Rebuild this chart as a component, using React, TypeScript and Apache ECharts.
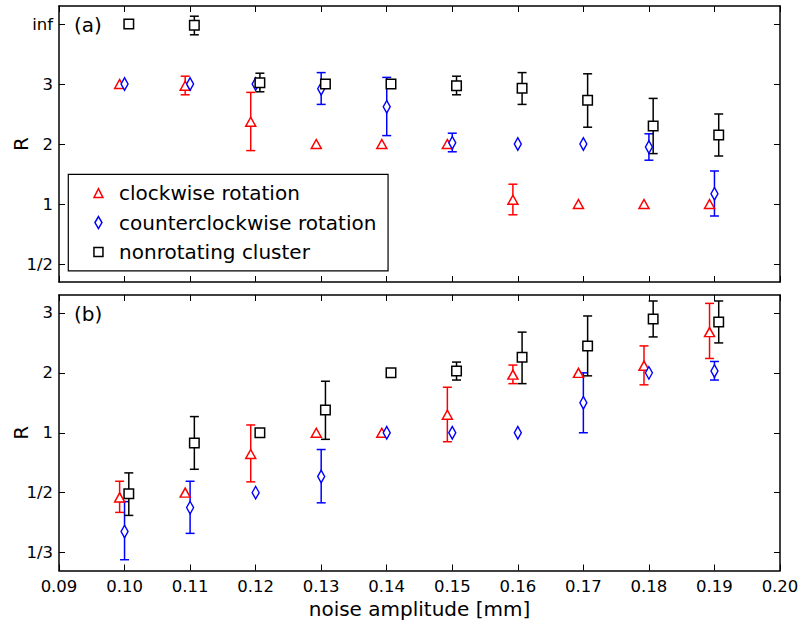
import React, { useEffect, useRef } from "react";
import * as echarts from "echarts";

// x categories (noise amplitude, mm)
const noise = [0.1, 0.11, 0.12, 0.13, 0.14, 0.15, 0.16, 0.17, 0.18, 0.19];
const xTicks = [0.09, 0.1, 0.11, 0.12, 0.13, 0.14, 0.15, 0.16, 0.17, 0.18, 0.19, 0.2];

// R scale positions: 1/3 -> -1, 1/2 -> 0, 1 -> 1, 2 -> 2, 3 -> 3, inf -> 4
const yTicksA = [0, 1, 2, 3, 4];
const yLabelsA = ["1/2", "1", "2", "3", "inf"];
const yTicksB = [-1, 0, 1, 2, 3];
const yLabelsB = ["1/3", "1/2", "1", "2", "3"];

const seriesNames = ["clockwise rotation", "counterclockwise rotation", "nonrotating cluster"];

// panel (a)
const cwA = [3.0, 2.97, 2.37, 2.0, 2.0, 2.0, 1.07, 1.0, 1.0, 1.0];
const cwAErr = [null, [2.82, 3.13], [1.89, 2.86], null, null, null, [0.82, 1.33], null, null, null];
const ccwA = [3.0, 3.0, 3.0, 2.92, 2.62, 2.02, 2.0, 2.0, 1.95, 1.17];
const ccwAErr = [null, null, null, [2.66, 3.19], [2.14, 3.11], [1.87, 2.18], null, null, [1.73, 2.17], [0.8, 1.55]];
const nrA = [4.0, 3.98, 3.02, 3.0, 3.0, 2.97, 2.93, 2.73, 2.3, 2.15];
const nrAErr = [null, [3.82, 4.13], [2.87, 3.18], null, null, [2.82, 3.13], [2.66, 3.19], [2.28, 3.17], [1.84, 2.76], [1.8, 2.5]];

// panel (b)
const cwB = [-0.08, 0.0, 0.645, 1.0, 1.0, 1.3, 1.97, 2.0, 2.12, 2.68];
const cwBErr = [[-0.33, 0.19], null, [0.18, 1.13], null, null, [0.85, 1.76], [1.82, 2.13], null, [1.8, 2.45], [2.24, 3.16]];
const ccwB = [-0.65, -0.25, 0.0, 0.27, 1.0, 1.0, 1.0, 1.5, 2.0, 2.03];
const ccwBErr = [[-1.12, -0.15], [-0.68, 0.19], null, [-0.17, 0.72], null, null, null, [1.0, 2.0], null, [1.88, 2.19]];
const nrB = [-0.02, 0.83, 1.0, 1.38, 2.0, 2.03, 2.26, 2.45, 2.9, 2.85];
const nrBErr = [[-0.38, 0.33], [0.39, 1.27], null, [0.89, 1.86], null, [1.88, 2.18], [1.82, 2.68], [1.95, 2.95], [2.6, 3.2], [2.5, 3.2]];

// small horizontal shifts between the three groups
const offsets = [-0.00075, 0, 0.00065];
const colors = ["#ff0000", "#0000ff", "#000000"];
const symbols = ["triangle", "diamond", "rect"];
const symbolSizes: any[] = [[10, 9], [7, 12.5], [9.5, 9.5]];
const legendIcons = [
  "path://M0,0M10,13M0.5,11L5,2L9.5,11Z",
  "path://M0,0M10,13M5,0.5L8.5,6.5L5,12.5L1.5,6.5Z",
  "path://M0,0M10,13M0.5,2L9.5,2L9.5,11L0.5,11Z",
];

const FONT = "DejaVu Sans";

function errSeries(name: string, k: number, err: any[], axis: number) {
  const data = noise
    .map((x, i) => (err[i] ? [x + offsets[k], err[i][0], err[i][1]] : null))
    .filter(Boolean);
  return {
    type: "custom",
    name: name + " err",
    xAxisIndex: axis * 2,
    yAxisIndex: axis * 2,
    encode: { x: 0, y: [1, 2] },
    data,
    silent: true,
    renderItem: (params: any, api: any) => {
      const x = api.value(0);
      const lo = api.coord([x, api.value(1)]);
      const hi = api.coord([x, api.value(2)]);
      const cw = 4.5;
      const st = { stroke: colors[k], lineWidth: 1.5 };
      return {
        type: "group",
        children: [
          { type: "line", shape: { x1: hi[0], y1: hi[1], x2: lo[0], y2: lo[1] }, style: st },
          { type: "line", shape: { x1: hi[0] - cw, y1: hi[1], x2: hi[0] + cw, y2: hi[1] }, style: st },
          { type: "line", shape: { x1: lo[0] - cw, y1: lo[1], x2: lo[0] + cw, y2: lo[1] }, style: st },
        ],
      };
    },
  };
}

function pointSeries(k: number, vals: number[], axis: number) {
  return {
    type: "scatter",
    name: seriesNames[k],
    xAxisIndex: axis * 2,
    yAxisIndex: axis * 2,
    symbol: symbols[k],
    symbolSize: symbolSizes[k],
    itemStyle: { color: "#ffffff", borderColor: colors[k], borderWidth: 1.5, opacity: 1 },
    data: noise.map((x, i) => [x + offsets[k], vals[i]]),
  };
}

export default function App() {
  const ref = useRef<HTMLDivElement>(null);
  useEffect(() => {
    if (!ref.current) return;
    const chart = echarts.init(ref.current, null, { renderer: "svg" });
    const tick = { show: true, inside: true, length: 6, customValues: xTicks, lineStyle: { color: "#000", width: 1 } };
    const axLine = { show: true, onZero: false, lineStyle: { color: "#000", width: 1.5 } };
    const xBase = {
      type: "value",
      min: 0.09,
      max: 0.2,
      axisLine: axLine,
      axisTick: tick,
      splitLine: { show: false },
      axisLabel: { show: false },
    };
    const yBase = (ticks: number[], min: number, max: number) => ({
      type: "value",
      min,
      max,
      axisLine: axLine,
      axisTick: { ...tick, customValues: ticks },
      splitLine: { show: false },
      axisLabel: { show: false },
    });
    const yLabel = (ticks: number[], labels: string[]) => ({
      show: true,
      customValues: ticks,
      margin: 6,
      color: "#000",
      fontFamily: FONT,
      fontSize: 16.5,
      formatter: (v: number) => {
        const i = ticks.findIndex((t) => Math.abs(t - v) < 1e-6);
        return i >= 0 ? labels[i] : "";
      },
    });
    const yName = {
      name: "R",
      nameLocation: "middle",
      nameGap: 28,
      nameMoveOverlap: false,
      nameTextStyle: { fontFamily: FONT, fontSize: 20, color: "#000" },
    };
    const option: any = {
      animation: false,
      textStyle: { fontFamily: FONT },
      grid: [
        { left: 59, right: 21, top: 6, height: 276, containLabel: false, outerBoundsMode: "none" },
        { left: 59, right: 21, top: 295, height: 275.5, containLabel: false, outerBoundsMode: "none" },
      ],
      xAxis: [
        { ...xBase, gridIndex: 0, position: "bottom" },
        { ...xBase, gridIndex: 0, position: "top" },
        {
          ...xBase,
          gridIndex: 1,
          position: "bottom",
          axisLabel: {
            show: true,
            customValues: xTicks,
            margin: 7,
            color: "#000",
            fontFamily: FONT,
            fontSize: 16.5,
            formatter: (v: number) => v.toFixed(2),
          },
          name: "noise amplitude [mm]",
          nameLocation: "middle",
          nameGap: 28,
          nameTextStyle: { fontFamily: FONT, fontSize: 20, color: "#000", verticalAlign: "top" },
        },
        { ...xBase, gridIndex: 1, position: "top" },
      ],
      yAxis: [
        {
          ...yBase(yTicksA, -0.3, 4.3),
          gridIndex: 0,
          position: "left",
          axisLabel: yLabel(yTicksA, yLabelsA),
          ...yName,
        },
        { ...yBase(yTicksA, -0.3, 4.3), gridIndex: 0, position: "right" },
        {
          ...yBase(yTicksB, -1.3, 3.3),
          gridIndex: 1,
          position: "left",
          axisLabel: yLabel(yTicksB, yLabelsB),
          ...yName,
        },
        { ...yBase(yTicksB, -1.3, 3.3), gridIndex: 1, position: "right" },
      ],
      legend: {
        left: 68.3,
        top: 174.3,
        orient: "vertical",
        data: seriesNames.map((n, k) => ({ name: n, icon: legendIcons[k] })),
        itemWidth: 10,
        itemHeight: 13,
        itemGap: 9.5,
        padding: [8.8, 11.7, 8.8, 24.4],
        borderColor: "#000",
        borderWidth: 1.2,
        backgroundColor: "#ffffff",
        selectedMode: false,
        itemStyle: { borderWidth: 1.5 },
        textStyle: { fontFamily: FONT, fontSize: 20, color: "#000", lineHeight: 20, padding: [0, 0, 0, 10.6] },
      },
      graphic: [
        { type: "text", left: 74, top: 15, style: { text: "(a)", fontFamily: FONT, fontSize: 20, fill: "#000" } },
        { type: "text", left: 74, top: 304, style: { text: "(b)", fontFamily: FONT, fontSize: 20, fill: "#000" } },
      ],
      series: [
        errSeries(seriesNames[0], 0, cwAErr, 0),
        pointSeries(0, cwA, 0),
        errSeries(seriesNames[1], 1, ccwAErr, 0),
        pointSeries(1, ccwA, 0),
        errSeries(seriesNames[2], 2, nrAErr, 0),
        pointSeries(2, nrA, 0),
        errSeries(seriesNames[0], 0, cwBErr, 1),
        pointSeries(0, cwB, 1),
        errSeries(seriesNames[1], 1, ccwBErr, 1),
        pointSeries(1, ccwB, 1),
        errSeries(seriesNames[2], 2, nrBErr, 1),
        pointSeries(2, nrB, 1),
      ],
    };
    chart.setOption(option);
    return () => chart.dispose();
  }, []);
  return <div ref={ref} style={{ position: "absolute", left: 0, top: 0, width: 801, height: 626 }} />;
}
